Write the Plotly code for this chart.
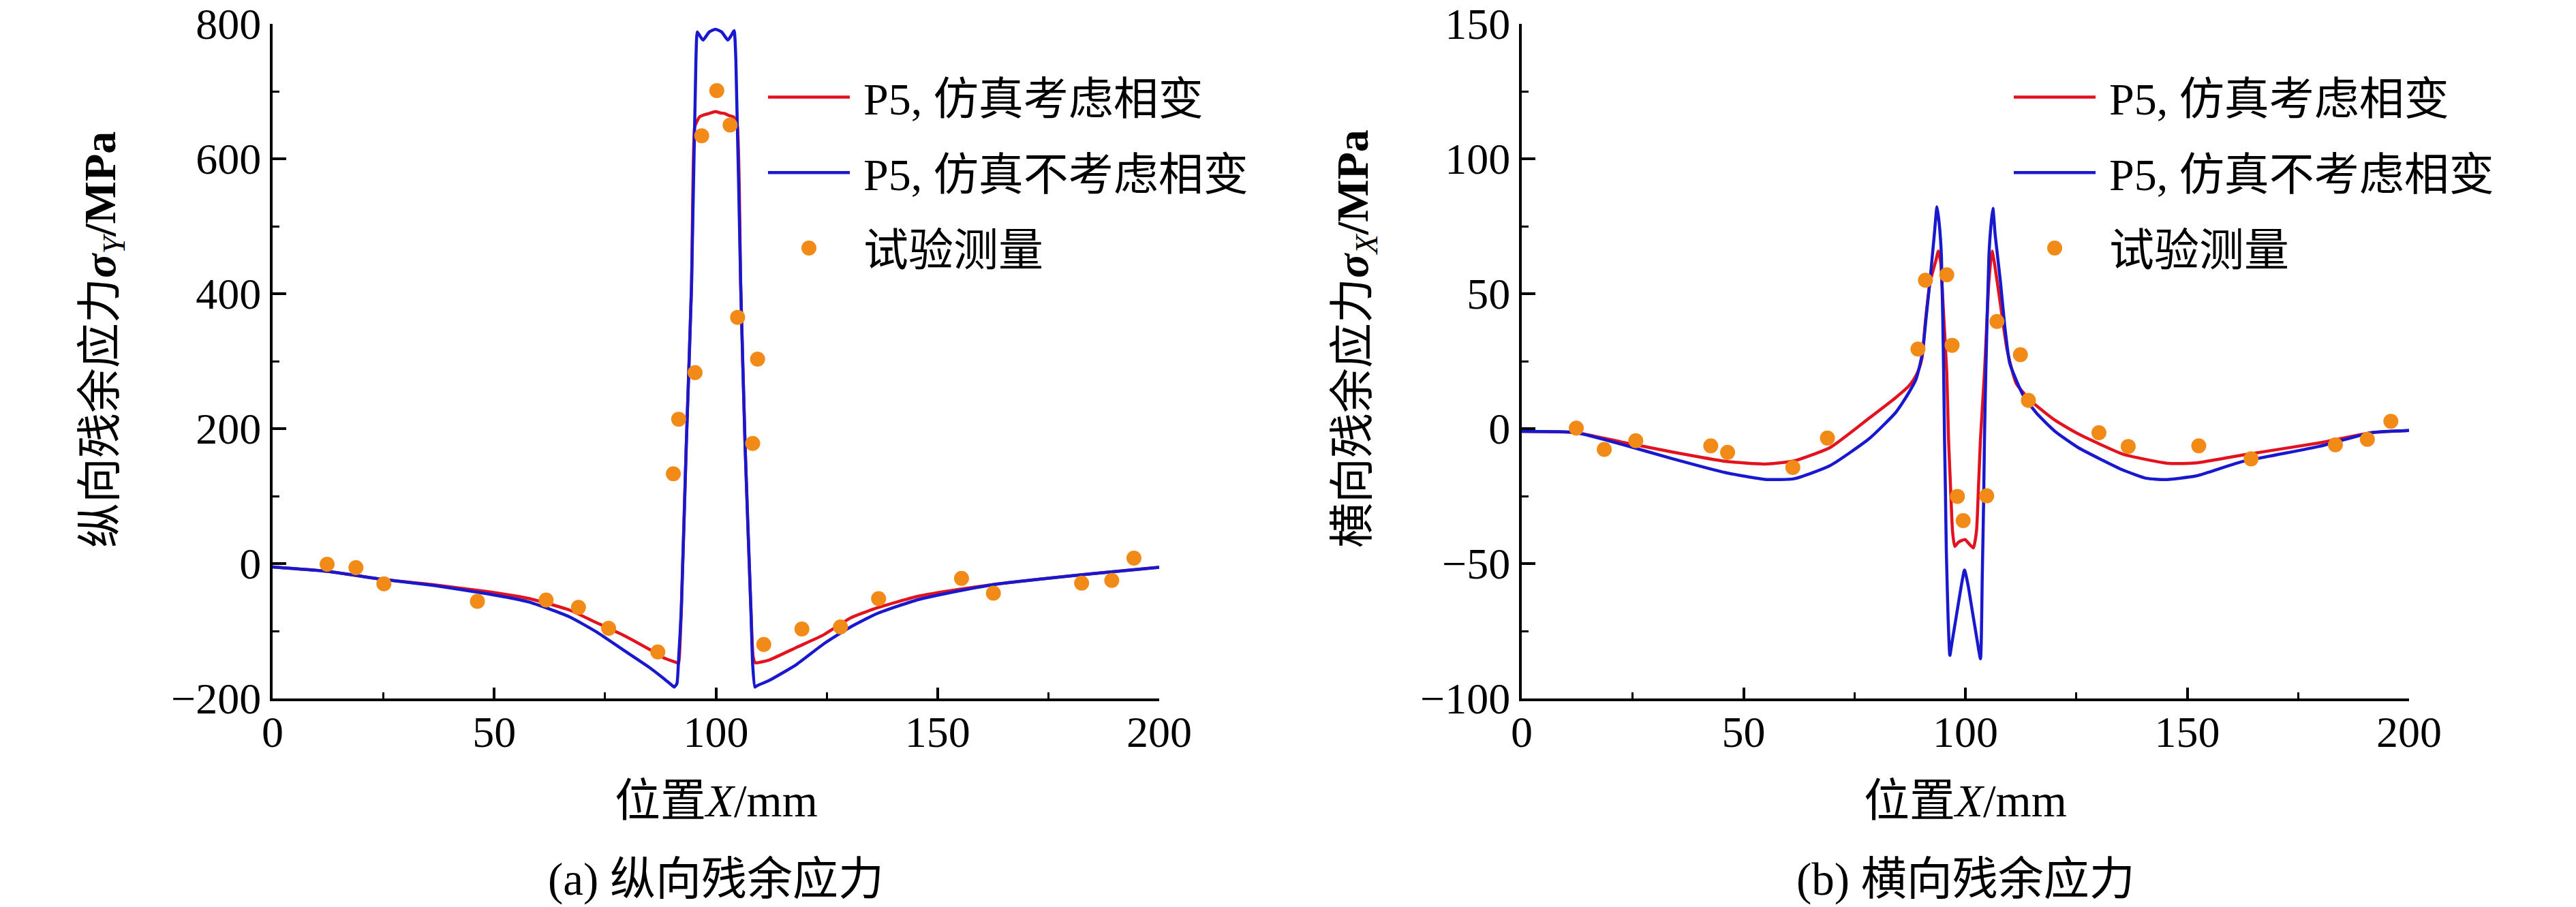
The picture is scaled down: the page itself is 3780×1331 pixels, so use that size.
import plotly.graph_objects as go

# ---------------- data ----------------
# (a) longitudinal residual stress sigma_Y
x_long_phase = [0, 12.2, 24.3, 36.5, 48.6, 57.8, 66.9, 72.9, 79.0, 85.1, 88.1, 91.2, 91.6, 91.9, 92.2, 93.3, 94.5, 95.2,
                95.7, 96.3, 97.3, 98.4, 99.9, 101.0, 102.0, 103.0, 104.0, 104.8, 105.6, 106.6, 107.9, 108.4, 108.9,
                112.1, 118.2, 124.3, 130.4, 136.5, 145.6, 154.7, 163.8, 172.9, 185.1, 200]
y_long_phase = [-5, -11.4, -23, -31.6, -41.7, -51.8, -68.7, -87.2, -105.7, -127.6, -139.4, -147, -148, -120, -68, 172,
                411, 647, 655, 662, 665, 667, 670, 668, 667, 664, 662, 650, 411, 172, -68, -138, -147,
                -142.7, -124.2, -105.7, -80.5, -65.3, -48.5, -38.4, -30, -23.2, -14.9, -5.5]

x_long_nophase = [0, 12.2, 24.3, 36.5, 48.6, 57.8, 66.9, 72.9, 79.0, 85.1, 88.1, 90.0, 90.6, 91.2, 91.6, 92.2, 93.3,
                  94.5, 95.5, 95.8, 96.4, 97.1, 98.5, 99.9, 101.3, 102.7, 103.4, 104.1, 104.5, 105.6, 106.6, 107.9,
                  108.3, 108.8, 109.3, 112.1, 118.2, 124.3, 130.4, 136.5, 145.6, 154.7, 163.8, 172.9, 185.1, 200]
y_long_nophase = [-5, -11.4, -23, -32.6, -45, -56.9, -78.8, -100.7, -127.6, -154.5, -169.7, -180, -183, -178, -140,
                  -68, 172, 411, 748, 788, 782, 776, 788, 792, 788, 776, 782, 790, 748, 411, 172, -68,
                  -150, -183, -181, -173, -149.5, -119.2, -93.9, -73.7, -53.5, -40.7, -30, -23.2, -14.9, -5.5]

x_long_exp = [12.3, 18.8, 25.1, 46.2, 61.7, 69.0, 75.8, 86.9, 90.4, 91.6, 95.3, 96.8, 100.2, 103.2, 104.9, 108.3, 109.4,
              110.8, 119.4, 128.1, 136.7, 155.4, 162.6, 182.5, 189.3, 194.3]
y_long_exp = [-1, -6, -30, -56, -54, -65, -96, -131, 133, 214, 283, 634, 701, 650, 365, 178, 303,
              -120, -97, -94, -52, -22, -44, -29, -25, 8]

# (b) transverse residual stress sigma_X
x_trans_phase = [0, 12.3, 22.3, 34.1, 45.9, 54.8, 61.3, 69.5, 78.4, 84.3, 87.2, 88.4, 89.4, 90.2, 91.0, 92.0, 93.3, 93.9,
                 94.4, 95.0, 95.8, 96.2, 96.6, 97.1, 97.6, 98.5, 99.9, 101.0, 101.8, 102.5, 103.0, 103.4, 104.3, 105.3,
                 106.0, 106.6, 107.9, 109.4, 111.5, 115.1, 120.2, 125.4, 135.6, 145.9, 152.1, 162, 179.7, 191.5, 200]
y_trans_phase = [-1, -1.5, -4.9, -8.7, -12.1, -13.1, -12.0, -7.0, 4.0, 11.5, 15.7, 18.3, 21.5, 26, 40, 54, 62, 65.8,
                 62, 45, 20.8, -3.8, -19.6, -38, -43.6, -42, -41.1, -43, -44.2, -38, -19.6, -3.8, 20.8, 54.5,
                 65.8, 60.8, 46, 29.2, 16.6, 9.8, 3.1, -1.9, -9.5, -12.9, -12.7, -9.9, -5.3, -1.5, -0.7]

x_trans_nophase = [0, 12.3, 22.3, 34.1, 45.9, 54.8, 61.3, 69.5, 78.4, 84.3, 87.2, 88.8, 89.8, 90.4, 91.2, 92.0, 93.0, 93.6,
                   94.1, 94.6, 95.1, 95.3, 95.5, 95.7, 96.1, 96.5, 97.0, 98.0, 99.0, 99.8, 100.6, 101.6, 102.6, 103.4,
                   103.8, 104.1, 104.3, 104.6, 105.3, 105.8, 106.2, 106.7, 107.9, 108.9, 110.0, 113.0, 116.1, 120.2,
                   125.4, 135.6, 140.8, 145.0, 152.1, 162, 179.7, 191.5, 200]
y_trans_nophase = [-1, -1.5, -5.7, -11.2, -16.3, -18.8, -18.6, -13.7, -3.6, 6, 13.2, 18, 24, 29, 42, 54.5, 72, 82.2,
                   76, 63.9, 20.8, -4, -23, -45, -70, -84, -79, -69, -59, -52.4, -58, -68, -78, -85.3,
                   -55, -28, -4, 20.8, 63.9, 76, 81.6, 72, 54.5, 37.6, 24.2, 12.4, 5.6, -1,
                   -7, -15.4, -18.4, -18.9, -17.5, -12.4, -6.6, -1.5, -0.7]

x_trans_exp = [12.3, 18.6, 25.7, 42.6, 46.4, 61.1, 68.9, 89.3, 91.0, 95.8, 97.0, 98.2, 99.5, 104.8, 107.1, 112.4, 114.2,
               130.1, 136.7, 152.6, 164.4, 183.4, 190.6, 195.9]
y_trans_exp = [0.2, -7.7, -4.5, -6.4, -8.8, -14.4, -3.5, 29.5, 55, 57, 30.9, -25.1, -34.1, -24.9, 39.7, 27.4, 10.5,
               -1.5, -6.6, -6.4, -11.2, -6, -4, 2.7]

names = ["P5, 仿真考虑相变", "P5, 仿真不考虑相变", "试验测量"]
x_ticks = [0, 50, 100, 150, 200]
y_ticks_long = [-200, 0, 200, 400, 600, 800]
y_ticks_trans = [-100, -50, 0, 50, 100, 150]

# ---------------- style ----------------
W, H = 3780, 1331
RED = "#E2121F"
BLUE = "#1818CF"
ORANGE = "#F28A17"
SERIF = "Liberation Serif, Noto Sans CJK SC, serif"
FS_TICK = 64
FS_TXT = 66


def fx(p):
    return p / W


def fy(p):
    return 1 - p / H


fig = go.Figure()

traces = [
    (x_long_phase, y_long_phase, "lines", RED, names[0], "x", "y", "legend", "a"),
    (x_long_nophase, y_long_nophase, "lines", BLUE, names[1], "x", "y", "legend", "b"),
    (x_long_exp, y_long_exp, "markers", ORANGE, names[2], "x", "y", "legend", "c"),
    (x_trans_phase, y_trans_phase, "lines", RED, names[0], "x2", "y2", "legend2", "d"),
    (x_trans_nophase, y_trans_nophase, "lines", BLUE, names[1], "x2", "y2", "legend2", "e"),
    (x_trans_exp, y_trans_exp, "markers", ORANGE, names[2], "x2", "y2", "legend2", "f"),
]
for (xs, ys, mode, col, nm, ax, ay, lg, grp) in traces:
    if mode == "lines":
        fig.add_trace(go.Scatter(x=xs, y=ys, mode="lines", name=nm, xaxis=ax, yaxis=ay,
                                 line=dict(color=col, width=4.5, shape="spline", smoothing=0.5),
                                 legend=lg, legendgroup=grp))
    else:
        fig.add_trace(go.Scatter(x=xs, y=ys, mode="markers", name=nm, xaxis=ax, yaxis=ay,
                                 marker=dict(color=col, size=22), legend=lg, legendgroup=grp))

axis_common = dict(showline=True, linecolor="black", linewidth=4, ticks="inside", tickwidth=4,
                   tickcolor="black", showgrid=False, zeroline=False, mirror=False, automargin=False,
                   tickfont=dict(size=FS_TICK, family=SERIF, color="black"))

xa = dict(axis_common, range=[0, 200], tickvals=x_ticks, ticklen=16, ticklabelstandoff=-10,
          minor=dict(dtick=25, tick0=0, ticklen=9, tickwidth=3, ticks="inside", tickcolor="black"))
fig.update_layout(
    xaxis=dict(xa, domain=[fx(400), fx(1701)], anchor="y"),
    yaxis=dict(axis_common, domain=[fy(1025), fy(35)], anchor="x", range=[-200, 800], tickvals=y_ticks_long,
               ticklen=20, minor=dict(dtick=100, tick0=0, ticklen=10, tickwidth=3, ticks="inside", tickcolor="black")),
    xaxis2=dict(xa, domain=[fx(2233), fx(3535)], anchor="y2"),
    yaxis2=dict(axis_common, domain=[fy(1025), fy(35)], anchor="x2", range=[-100, 150], tickvals=y_ticks_trans,
                ticklen=20, minor=dict(dtick=25, tick0=0, ticklen=10, tickwidth=3, ticks="inside", tickcolor="black")),
)

leg_common = dict(xanchor="left", yanchor="top", bgcolor="rgba(0,0,0,0)", borderwidth=0,
                  font=dict(size=FS_TXT, family=SERIF, color="black"), itemwidth=150,
                  traceorder="grouped", tracegroupgap=22)
fig.update_layout(
    legend=dict(leg_common, x=fx(1107), y=fy(93)),
    legend2=dict(leg_common, x=fx(2935), y=fy(93)),
)

annots = []
for cx, cap in [((400 + 1701) / 2, "(a) 纵向残余应力"), ((2233 + 3535) / 2, "(b) 横向残余应力")]:
    annots.append(dict(x=fx(cx), y=fy(1175), xref="paper", yref="paper", text="位置<i>X</i>/mm",
                       showarrow=False, font=dict(size=67, family=SERIF, color="black"),
                       xanchor="center", yanchor="middle"))
    annots.append(dict(x=fx(cx), y=fy(1290), xref="paper", yref="paper", text=cap,
                       showarrow=False, font=dict(size=67, family=SERIF, color="black"),
                       xanchor="center", yanchor="middle"))
annots.append(dict(x=fx(151), y=fy(499), xref="paper", yref="paper", textangle=-90,
                   text="纵向残余应力<b><i>σ</i></b><sub><i>Y</i></sub><b>/MPa</b>", showarrow=False,
                   font=dict(size=FS_TXT, family=SERIF, color="black"), xanchor="center", yanchor="middle"))
annots.append(dict(x=fx(1990), y=fy(497), xref="paper", yref="paper", textangle=-90,
                   text="横向残余应力<b><i>σ</i></b><sub><i>X</i></sub><b>/MPa</b>", showarrow=False,
                   font=dict(size=FS_TXT, family=SERIF, color="black"), xanchor="center", yanchor="middle"))

fig.update_layout(
    template="none",
    width=W, height=H, margin=dict(l=0, r=0, t=0, b=0, pad=0), autosize=False,
    paper_bgcolor="white", plot_bgcolor="white",
    font=dict(family=SERIF, color="black", size=FS_TXT),
    annotations=annots,
)

post = """
document.body.style.margin='0';
document.body.style.overflow='hidden';
var gd = document.getElementById('{plot_id}');
gd.querySelectorAll('.legendlines path').forEach(function(p){ p.setAttribute('d','M20,0h120'); });
gd.querySelectorAll('.legendpoints path.scatterpts').forEach(function(p){
  p.setAttribute('d','M11,0A11,11 0 1,1 0,-11A11,11 0 0,1 11,0Z'); });
"""
fig.write_html("out.html", post_script=post, config={"displayModeBar": False})
